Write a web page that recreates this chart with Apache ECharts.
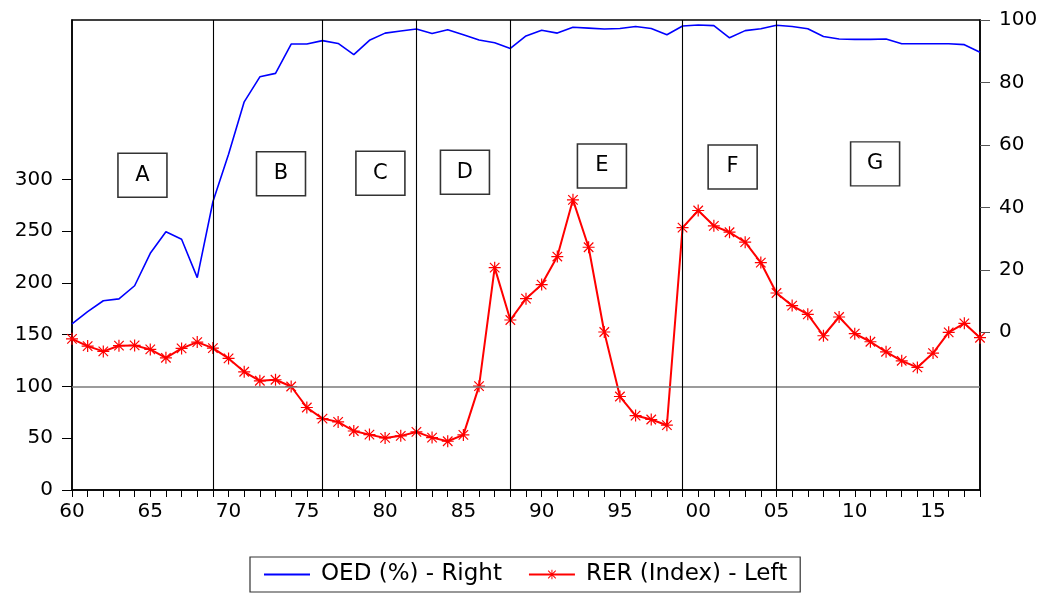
<!DOCTYPE html>
<html>
<head>
<meta charset="utf-8">
<script src="https://cdn.jsdelivr.net/npm/echarts@6/dist/echarts.min.js"></script>
<style>
  html, body { margin: 0; padding: 0; background: #fff; }
  #chart { width: 1049px; height: 596px; }
</style>
</head>
<body>
<div id="chart"></div>
<script>
// Years 1960-2018
const years = [];
for (let y = 1960; y <= 2018; y++) years.push(y);

// Trade openness OED (%), plotted on the right axis
const oed = [
  2.7, 6.6, 10.1, 10.7, 14.9, 25.3, 32.2, 29.8, 17.5, 41.8,
  57.0, 73.8, 81.8, 82.9, 92.3, 92.3, 93.4, 92.5, 88.9, 93.5,
  95.8, 96.5, 97.1, 95.7, 96.9, 95.3, 93.6, 92.7, 90.9, 94.9,
  96.7, 95.8, 97.7, 97.4, 97.1, 97.3, 97.9, 97.3, 95.3, 98.1,
  98.4, 98.2, 94.3, 96.6, 97.2, 98.3, 97.9, 97.2, 94.7, 93.9,
  93.8, 93.8, 93.9, 92.4, 92.4, 92.4, 92.4, 92.1, 89.7
];

// Real exchange rate RER (index), plotted on the left axis
const rer = [
  146.0, 139.0, 133.9, 139.4, 139.7, 135.8, 127.7, 136.8, 142.9, 137.1,
  127.1, 114.2, 105.5, 106.5, 100.0, 79.7, 69.0, 65.8, 57.0, 53.5,
  50.3, 52.3, 56.1, 50.6, 47.1, 53.2, 100.3, 214.8, 164.2, 184.8,
  198.4, 225.5, 280.3, 234.5, 152.6, 90.3, 71.9, 68.1, 62.6, 253.5,
  270.0, 255.2, 249.0, 239.4, 219.7, 190.3, 178.1, 169.7, 149.0, 167.1,
  151.0, 143.2, 133.5, 124.8, 118.4, 132.3, 152.3, 161.0, 147.1
];

// Period boundaries and period names
const breakYears = [1969, 1976, 1982, 1988, 1999, 2005];
const periodNames = ['A', 'B', 'C', 'D', 'E', 'F', 'G'];

// Tick labels
const xLabelYears = [1960, 1965, 1970, 1975, 1980, 1985, 1990, 1995, 2000, 2005, 2010, 2015];
const leftTicks = [0, 50, 100, 150, 200, 250, 300];
const rightTicks = [0, 20, 40, 60, 80, 100];

// Where each period name box sits (year, left-axis value)
const periodBoxAt = [
  [1964.5, 304], [1973.35, 305.5], [1979.7, 306], [1985.1, 307],
  [1993.85, 313], [2002.2, 312], [2011.3, 315]
];

const FONT = 'DejaVu Sans';

// Asterisk marker drawn as four bars
const asterisk = 'path://M9,0L11,0L11,20L9,20Z M0,9L20,9L20,11L0,11Z ' +
  'M1.4,2.8L2.8,1.4L18.6,17.2L17.2,18.6Z M17.2,1.4L18.6,2.8L2.8,18.6L1.4,17.2Z';

const chart = echarts.init(document.getElementById('chart'), null, { renderer: 'canvas' });

const option = {
  animation: false,
  backgroundColor: '#ffffff',
  textStyle: { fontFamily: FONT },
  grid: {
    left: 72, right: 69, top: 20, bottom: 106,
    show: true, borderColor: '#000', borderWidth: 1.5
  },
  legend: {
    left: 250, top: 557,
    padding: [6, 13, 6, 13],
    itemGap: 26,
    itemWidth: 46, itemHeight: 12,
    borderColor: '#333', borderWidth: 1.2,
    textStyle: { fontFamily: FONT, fontSize: 23, color: '#000', padding: [0, 0, 0, 6] },
    data: [
      { name: 'OED (%) - Right', itemStyle: { opacity: 0 } },
      { name: 'RER (Index) - Left' }
    ]
  },
  xAxis: {
    type: 'value',
    min: 1960, max: 2018, interval: 1,
    axisLine: { lineStyle: { color: '#000', width: 1.5 } },
    axisTick: { show: true, length: 7, lineStyle: { color: '#000', width: 1 } },
    axisLabel: {
      customValues: xLabelYears,
      formatter: v => String(v % 100).padStart(2, '0'),
      color: '#000', fontSize: 20, fontFamily: FONT, margin: 12
    },
    splitLine: { show: false }
  },
  yAxis: [
    {
      type: 'value', position: 'left',
      min: 0, max: 454,
      axisLine: { show: true, lineStyle: { color: '#000', width: 1.5 } },
      axisTick: { show: true, customValues: leftTicks, length: 10, lineStyle: { color: '#000' } },
      axisLabel: { customValues: leftTicks, color: '#000', fontSize: 20, fontFamily: FONT, margin: 19 },
      splitLine: { show: false }
    },
    {
      type: 'value', position: 'right',
      min: -50.5, max: 100,
      axisLine: { show: true, lineStyle: { color: '#000', width: 1.5 } },
      axisTick: { show: true, customValues: rightTicks, length: 10, lineStyle: { color: '#555' } },
      axisLabel: { customValues: rightTicks, color: '#000', fontSize: 20, fontFamily: FONT, margin: 19 },
      splitLine: { show: false }
    }
  ],
  series: [
    {
      name: 'OED (%) - Right',
      type: 'line',
      yAxisIndex: 1,
      data: years.map((y, i) => [y, oed[i]]),
      showSymbol: false,
      symbol: 'none',
      lineStyle: { color: '#0000ff', width: 1.6 },
      itemStyle: { color: '#0000ff' },
      z: 3
    },
    {
      name: 'RER (Index) - Left',
      type: 'line',
      yAxisIndex: 0,
      data: years.map((y, i) => [y, rer[i]]),
      symbol: asterisk,
      symbolSize: 12,
      showSymbol: true,
      lineStyle: { color: '#ff0000', width: 2 },
      itemStyle: { color: '#ff0000' },
      z: 4,
      markLine: {
        silent: true,
        symbol: 'none',
        label: { show: false },
        data: [
          { yAxis: 100, lineStyle: { color: '#7a7a7a', width: 1.5, type: 'solid' } }
        ].concat(breakYears.map(y => ({ xAxis: y, lineStyle: { color: '#000', width: 1.1, type: 'solid' } })))
      },
      markPoint: {
        silent: true,
        symbol: 'rect',
        symbolSize: [49, 44],
        itemStyle: { color: '#fff', borderColor: '#333', borderWidth: 1.5 },
        label: {
          show: true, position: 'inside',
          color: '#000', fontSize: 21, fontFamily: FONT,
          formatter: p => p.name
        },
        data: periodNames.map((n, i) => ({ name: n, coord: periodBoxAt[i] }))
      }
    }
  ]
};

chart.setOption(option);
</script>
</body>
</html>
